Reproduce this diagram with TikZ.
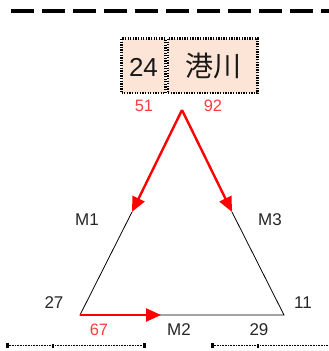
\documentclass[tikz,border=0pt]{standalone}
\usepackage{fontspec}
\setmainfont{Liberation Sans}
\newfontfamily\cjk{Noto Sans CJK JP}
\usetikzlibrary{arrows.meta}
\definecolor{peach}{HTML}{FCE4D6}
\definecolor{numred}{HTML}{FF3B3B}
\tikzset{
  boxstyle/.style={draw=black, fill=peach, line width=2.4pt, dash pattern=on 1.3pt off 1.3pt, inner sep=0pt},
  redarrow/.style={draw=red, line width=2.4pt, -{Triangle[length=15pt,width=13pt]}},
  edge/.style={draw=black, line width=0.8pt},
  lbl/.style={font=\fontsize{17}{17}\selectfont, text=black!85, inner sep=0pt},
  rlbl/.style={font=\fontsize{16.5}{17}\selectfont, text=numred, inner sep=0pt},
  dotline/.style={draw=black, line width=1.5pt, dash pattern=on 0.8pt off 0.8pt},
  tick/.style={fill=black, draw=none}
}
\begin{document}
\begin{tikzpicture}[x=1pt,y=-1pt]
\useasboundingbox (0,0) rectangle (329,351);
% top dashed line
\coordinate (tl) at (11,11);
\coordinate (tr) at (335,11);
\draw[line width=4.4pt, dash pattern=on 23.3pt off 7.7pt] (tl) -- (tr);
% boxes
\node[boxstyle, minimum width=44pt, minimum height=54.5pt] (num) at (143.5,65.75) {};
\node[boxstyle, minimum width=89.5pt, minimum height=54.5pt] (name) at (212.75,65.75) {};
\node[font=\fontsize{26}{26}\selectfont, text=black!90] (numt) at (143.5,67) {24};
\node[font=\cjk\fontsize{28}{28}\selectfont, text=black!90] (namet) at (213.5,66) {港川};
\node[rlbl] (l51) at (144,106) {51};
\node[rlbl] (l92) at (213,106) {92};
% triangle
\coordinate (apex) at (182,110);
\coordinate (m1) at (132,212);
\coordinate (m3) at (232,212);
\coordinate (bl) at (80,315);
\coordinate (br) at (284,315);
\coordinate (m2) at (161,315);
\draw[edge] (m1) -- (bl) -- (br) -- (m3);
\draw[redarrow] (apex) -- (m1);
\draw[redarrow] (apex) -- (m3);
\draw[redarrow] (bl) -- (m2);
% labels
\node[lbl] (lm1) at (87,220) {M1};
\node[lbl] (lm3) at (270,220) {M3};
\node[lbl] (l27) at (54,303) {27};
\node[lbl] (l11) at (303,303) {11};
\node[rlbl] (l67) at (99,330) {67};
\node[lbl] (lm2) at (179,330) {M2};
\node[lbl] (l29) at (259,330) {29};
% bottom dotted lines
\coordinate (b1s) at (7,345.5);
\coordinate (b1e) at (146,345.5);
\coordinate (b2s) at (212,345.5);
\coordinate (b2e) at (329,345.5);
\draw[dotline] (b1s) -- (b1e);
\draw[dotline] (b2s) -- (b2e);
\fill[tick] (6,343) rectangle (9,348);
\fill[tick] (52,344) rectangle (54,348);
\fill[tick] (143,343) rectangle (146,348);
\fill[tick] (211,343) rectangle (214,348);
\fill[tick] (257,344) rectangle (259,348);
\end{tikzpicture}
\end{document}
